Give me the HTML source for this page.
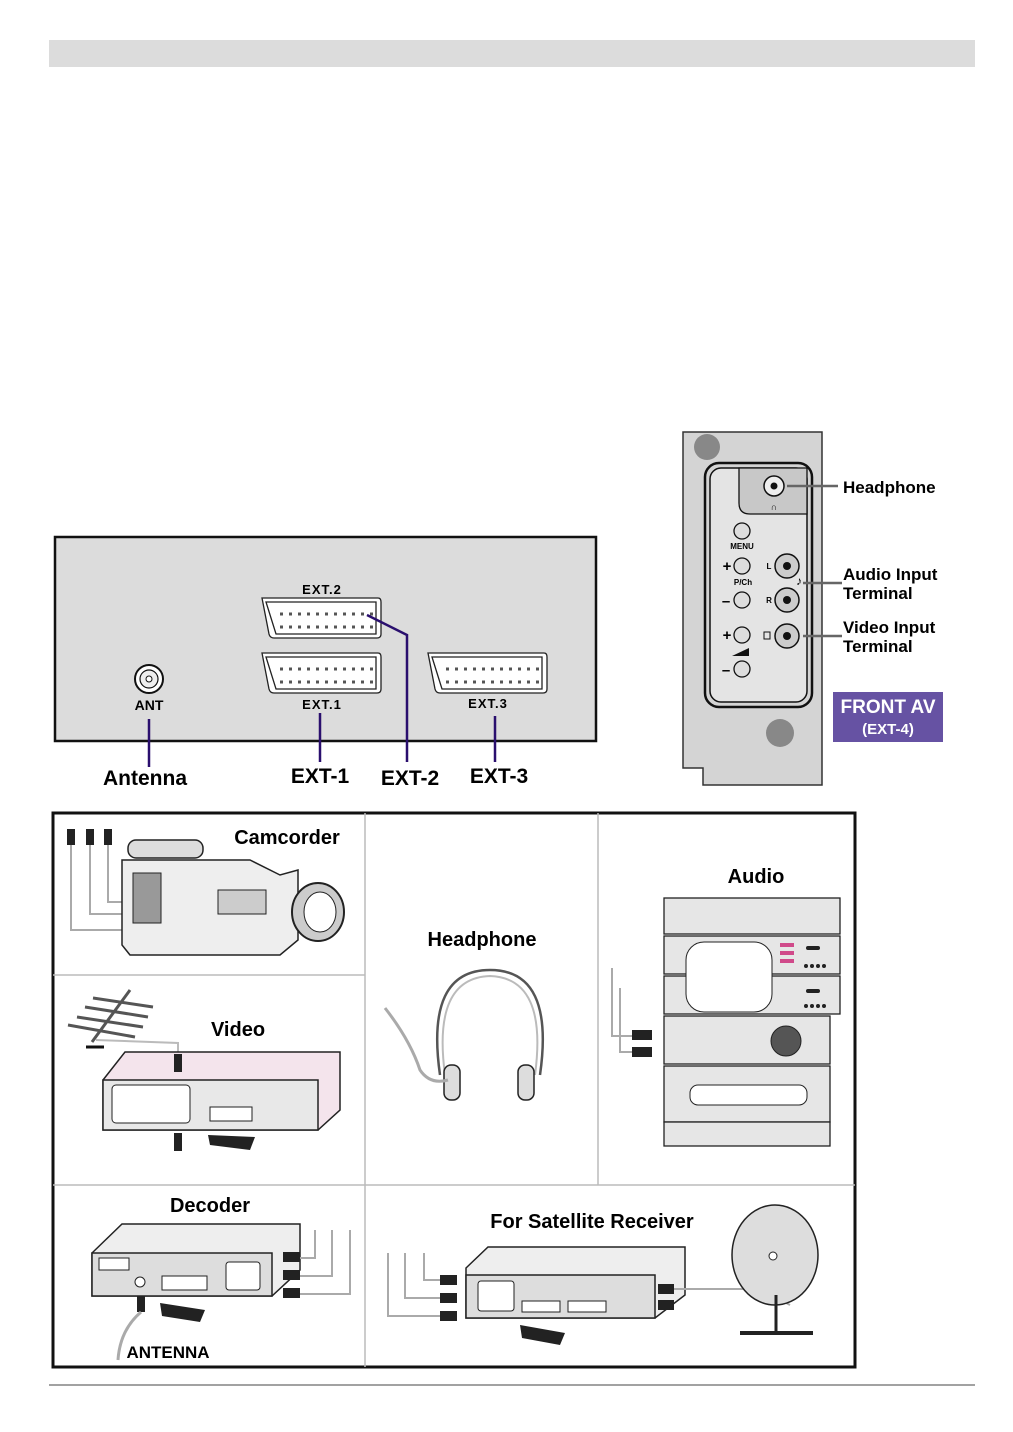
<!DOCTYPE html>
<html><head><meta charset="utf-8"><style>
html,body{margin:0;padding:0;background:#fff}
svg{display:block}
text{font-family:"Liberation Sans",Arial,sans-serif;font-weight:bold}
</style></head><body>
<svg width="1013" height="1432" viewBox="0 0 1013 1432" xmlns="http://www.w3.org/2000/svg">
<rect x="49" y="40" width="926" height="27" fill="#dcdcdc"/>
<line x1="49" y1="1385" x2="975" y2="1385" stroke="#444" stroke-width="1"/>

<!-- Rear panel -->
<rect x="55" y="537" width="541" height="204" fill="#dcdcdc" stroke="#111" stroke-width="2.5"/>
<circle cx="149" cy="679" r="14" fill="#fff" stroke="#111" stroke-width="2"/>
<circle cx="149" cy="679" r="9" fill="#eee" stroke="#111" stroke-width="1.2"/>
<circle cx="149" cy="679" r="3" fill="#fff" stroke="#111"/>
<text x="149" y="710" font-size="14" text-anchor="middle">ANT</text>
<g fill="#fff" stroke="#222" stroke-width="1.3">
<path d="M262 598 L378 598 Q381 598 381 602 L381 634 Q381 638 377 638 L274 638 Q270 638 269 634 Z"/>
<path d="M266 602 L376 602 L376 634 L276 634 Z"/>
<path d="M262 653 L378 653 Q381 653 381 657 L381 689 Q381 693 377 693 L274 693 Q270 693 269 689 Z"/>
<path d="M266 657 L376 657 L376 689 L276 689 Z"/>
<path d="M428 653 L544 653 Q547 653 547 657 L547 689 Q547 693 543 693 L440 693 Q436 693 435 689 Z"/>
<path d="M432 657 L542 657 L542 689 L442 689 Z"/>
</g>
<g stroke="#555" stroke-width="3" stroke-dasharray="3,6">
<line x1="280" y1="614" x2="374" y2="614"/><line x1="280" y1="627" x2="374" y2="627"/>
<line x1="280" y1="669" x2="374" y2="669"/><line x1="280" y1="682" x2="374" y2="682"/>
<line x1="446" y1="669" x2="540" y2="669"/><line x1="446" y1="682" x2="540" y2="682"/>
</g>
<text x="322" y="594" font-size="13" text-anchor="middle" letter-spacing="1">EXT.2</text>
<text x="322" y="709" font-size="13" text-anchor="middle" letter-spacing="1">EXT.1</text>
<text x="488" y="708" font-size="13" text-anchor="middle" letter-spacing="1">EXT.3</text>
<g stroke="#2a0f6e" stroke-width="2.5" fill="none">
<line x1="149" y1="719" x2="149" y2="767"/>
<line x1="320" y1="713" x2="320" y2="762"/>
<polyline points="367,615 407,635 407,762"/>
<line x1="495" y1="716" x2="495" y2="762"/>
</g>
<text x="145" y="785" font-size="21" text-anchor="middle">Antenna</text>
<text x="320" y="783" font-size="21" text-anchor="middle">EXT-1</text>
<text x="410" y="785" font-size="21" text-anchor="middle">EXT-2</text>
<text x="499" y="783" font-size="21" text-anchor="middle">EXT-3</text>

<!-- Front panel -->
<path d="M683 432 L822 432 L822 785 L703 785 L703 768 L683 768 Z" fill="#d4d4d4" stroke="#333" stroke-width="1.5"/>
<circle cx="707" cy="447" r="13" fill="#888"/>
<circle cx="780" cy="733" r="14" fill="#888"/>
<rect x="705" y="463" width="107" height="244" rx="14" fill="none" stroke="#111" stroke-width="2.5"/>
<rect x="710" y="468" width="97" height="234" rx="11" fill="#e4e4e4" stroke="#111" stroke-width="1.5"/>
<path d="M739 468 L807 468 L807 514 L750 514 Q739 514 739 503 Z" fill="#c8c8c8" stroke="#111" stroke-width="1.3"/>
<circle cx="774" cy="486" r="10" fill="#eee" stroke="#111" stroke-width="1.5"/><circle cx="774" cy="486" r="3.5" fill="#111"/>
<text x="774" y="510" font-size="9" text-anchor="middle">∩</text>
<g fill="#ddd" stroke="#111" stroke-width="1.3">
<circle cx="742" cy="531" r="8"/><circle cx="742" cy="566" r="8"/><circle cx="742" cy="600" r="8"/><circle cx="742" cy="635" r="8"/><circle cx="742" cy="669" r="8"/>
</g>
<text x="742" y="549" font-size="8" text-anchor="middle">MENU</text>
<text x="743" y="585" font-size="8" text-anchor="middle">P/Ch</text>
<text x="727" y="571" font-size="15" text-anchor="middle">+</text>
<text x="726" y="606" font-size="15" text-anchor="middle">–</text>
<text x="727" y="640" font-size="15" text-anchor="middle">+</text>
<text x="726" y="675" font-size="15" text-anchor="middle">–</text>
<path d="M732 656 L749 648 L749 656 Z" fill="#111"/>
<g fill="#ccc" stroke="#111" stroke-width="1.5">
<circle cx="787" cy="566" r="12"/><circle cx="787" cy="600" r="12"/><circle cx="787" cy="636" r="12"/>
</g>
<circle cx="787" cy="566" r="4" fill="#111"/><circle cx="787" cy="600" r="4" fill="#111"/><circle cx="787" cy="636" r="4" fill="#111"/>
<text x="769" y="569" font-size="8" text-anchor="middle">L</text>
<text x="769" y="603" font-size="8" text-anchor="middle">R</text>
<rect x="764" y="632" width="6" height="7" fill="none" stroke="#111"/>
<g stroke="#666" stroke-width="2.5">
<line x1="787" y1="486" x2="838" y2="486"/>
<line x1="803" y1="583" x2="842" y2="583"/>
<line x1="803" y1="636" x2="842" y2="636"/>
</g>
<text x="799" y="585" font-size="12" text-anchor="middle">♪</text>
<text x="843" y="493" font-size="17">Headphone</text>
<text x="843" y="580" font-size="17">Audio Input</text>
<text x="843" y="599" font-size="17">Terminal</text>
<text x="843" y="633" font-size="17">Video Input</text>
<text x="843" y="652" font-size="17">Terminal</text>
<rect x="833" y="692" width="110" height="50" fill="#6652a3"/>
<text x="888" y="713" font-size="19" fill="#fff" text-anchor="middle">FRONT AV</text>
<text x="888" y="734" font-size="15" fill="#fff" text-anchor="middle">(EXT-4)</text>

<!-- Bottom grid -->
<rect x="53" y="813" width="802" height="554" fill="#fff" stroke="#111" stroke-width="3"/>
<g stroke="#bbb" stroke-width="1.5">
<line x1="365" y1="813" x2="365" y2="1367"/>
<line x1="598" y1="813" x2="598" y2="1185"/>
<line x1="53" y1="975" x2="365" y2="975"/>
<line x1="53" y1="1185" x2="855" y2="1185"/>
</g>

<!-- Camcorder -->
<g stroke="#aaa" stroke-width="2" fill="none">
<polyline points="71,845 71,930 122,930"/><polyline points="90,845 90,914 122,914"/><polyline points="108,845 108,902 122,902"/>
</g>
<g fill="#222"><rect x="67" y="829" width="8" height="16"/><rect x="86" y="829" width="8" height="16"/><rect x="104" y="829" width="8" height="16"/></g>
<path d="M122 860 L250 860 L280 875 L298 870 L298 940 L280 955 L130 955 L122 945 Z" fill="#eee" stroke="#222" stroke-width="1.5"/>
<rect x="128" y="840" width="75" height="18" rx="8" fill="#ddd" stroke="#222" stroke-width="1.5"/>
<rect x="133" y="873" width="28" height="50" fill="#999" stroke="#222"/>
<rect x="218" y="890" width="48" height="24" fill="#ccc" stroke="#222"/>
<ellipse cx="318" cy="912" rx="26" ry="29" fill="#ccc" stroke="#222" stroke-width="2"/>
<ellipse cx="320" cy="912" rx="16" ry="20" fill="#fff" stroke="#222"/>
<text x="287" y="844" font-size="20" text-anchor="middle">Camcorder</text>

<!-- Video -->
<g stroke="#555" stroke-width="3"><line x1="92" y1="1042" x2="130" y2="990"/>
<line x1="93" y1="998" x2="153" y2="1007"/><line x1="85" y1="1007" x2="148" y2="1017"/><line x1="77" y1="1017" x2="143" y2="1027"/><line x1="68" y1="1025" x2="135" y2="1037"/></g>
<line x1="86" y1="1047" x2="104" y2="1047" stroke="#111" stroke-width="3"/>
<polyline points="96,1040 178,1043 178,1058" stroke="#bbb" stroke-width="2" fill="none"/>
<path d="M103 1080 L125 1052 L340 1052 L340 1110 L318 1130 L103 1130 Z" fill="#f4e4ec" stroke="#222" stroke-width="1.5"/>
<rect x="103" y="1080" width="215" height="50" fill="#e8e8e8" stroke="#222" stroke-width="1.5"/>
<rect x="112" y="1085" width="78" height="38" rx="4" fill="#fff" stroke="#222"/>
<rect x="210" y="1107" width="42" height="14" fill="#fff" stroke="#222"/>
<rect x="174" y="1054" width="8" height="18" fill="#222"/><rect x="174" y="1133" width="8" height="18" fill="#222"/>
<path d="M208 1135 L255 1137 L250 1150 L210 1145 Z" fill="#222"/>
<text x="238" y="1036" font-size="20" text-anchor="middle">Video</text>

<!-- Headphone -->
<text x="482" y="946" font-size="20" text-anchor="middle">Headphone</text>
<path d="M440 1075 Q425 970 490 970 Q555 970 540 1075" fill="none" stroke="#555" stroke-width="2.5"/>
<path d="M445 1075 Q432 978 490 976 Q548 978 535 1075" fill="none" stroke="#bbb" stroke-width="2"/>
<rect x="444" y="1065" width="16" height="35" rx="7" fill="#ddd" stroke="#222" stroke-width="1.5"/>
<rect x="518" y="1065" width="16" height="35" rx="7" fill="#ddd" stroke="#222" stroke-width="1.5"/>
<path d="M385 1008 Q410 1040 420 1070 Q430 1085 448 1080" fill="none" stroke="#aaa" stroke-width="3"/>

<!-- Audio -->
<text x="756" y="883" font-size="20" text-anchor="middle">Audio</text>
<g fill="#e6e6e6" stroke="#222" stroke-width="1.3">
<rect x="664" y="898" width="176" height="36"/>
<rect x="664" y="936" width="176" height="38"/>
<rect x="664" y="976" width="176" height="38"/>
<rect x="664" y="1016" width="166" height="48"/>
<rect x="664" y="1066" width="166" height="56"/>
<rect x="664" y="1122" width="166" height="24"/>
</g>
<rect x="686" y="942" width="86" height="70" rx="18" fill="#fff" stroke="#222"/>
<circle cx="786" cy="1041" r="15" fill="#555" stroke="#222"/>
<g fill="#d04a8a"><rect x="780" y="943" width="14" height="4"/><rect x="780" y="951" width="14" height="4"/><rect x="780" y="959" width="14" height="4"/></g>
<g fill="#222"><circle cx="806" cy="966" r="2"/><circle cx="812" cy="966" r="2"/><circle cx="818" cy="966" r="2"/><circle cx="824" cy="966" r="2"/>
<circle cx="806" cy="1006" r="2"/><circle cx="812" cy="1006" r="2"/><circle cx="818" cy="1006" r="2"/><circle cx="824" cy="1006" r="2"/>
<rect x="806" y="946" width="14" height="4" rx="2"/><rect x="806" y="989" width="14" height="4" rx="2"/></g>
<rect x="690" y="1085" width="117" height="20" rx="8" fill="#fff" stroke="#222"/>
<g stroke="#aaa" stroke-width="2" fill="none"><polyline points="612,968 612,1036 632,1036"/><polyline points="620,988 620,1052 632,1052"/></g>
<rect x="632" y="1030" width="20" height="10" fill="#222"/><rect x="632" y="1047" width="20" height="10" fill="#222"/>

<!-- Decoder -->
<text x="210" y="1212" font-size="20" text-anchor="middle">Decoder</text>
<path d="M92 1253 L122 1224 L300 1224 L300 1270 L272 1296 L92 1296 Z" fill="#eee" stroke="#222" stroke-width="1.5"/>
<rect x="92" y="1253" width="180" height="43" fill="#ddd" stroke="#222" stroke-width="1.5"/>
<rect x="99" y="1258" width="30" height="12" fill="#fff" stroke="#222"/>
<circle cx="140" cy="1282" r="5" fill="#fff" stroke="#222"/>
<rect x="162" y="1276" width="45" height="14" fill="#fff" stroke="#222"/>
<rect x="226" y="1262" width="34" height="28" rx="3" fill="#fff" stroke="#222"/>
<g stroke="#aaa" stroke-width="2" fill="none"><polyline points="300,1258 315,1258 315,1230"/><polyline points="300,1276 332,1276 332,1230"/><polyline points="300,1294 350,1294 350,1230"/></g>
<rect x="283" y="1252" width="17" height="10" fill="#222"/><rect x="283" y="1270" width="17" height="10" fill="#222"/><rect x="283" y="1288" width="17" height="10" fill="#222"/>
<rect x="137" y="1296" width="8" height="16" fill="#222"/>
<path d="M160 1303 L205 1310 L200 1322 L162 1316 Z" fill="#222"/>
<path d="M141 1312 Q120 1330 118 1360" fill="none" stroke="#aaa" stroke-width="3"/>
<text x="168" y="1358" font-size="17" text-anchor="middle">ANTENNA</text>

<!-- Satellite -->
<text x="592" y="1228" font-size="20" text-anchor="middle">For Satellite Receiver</text>
<path d="M466 1268 L488 1247 L685 1247 L685 1295 L655 1318 L466 1318 Z" fill="#eee" stroke="#222" stroke-width="1.5"/>
<rect x="466" y="1275" width="189" height="43" fill="#ddd" stroke="#222" stroke-width="1.5"/>
<rect x="478" y="1281" width="36" height="30" rx="3" fill="#fff" stroke="#222"/>
<rect x="522" y="1301" width="38" height="11" fill="#fff" stroke="#222"/><rect x="568" y="1301" width="38" height="11" fill="#fff" stroke="#222"/>
<g stroke="#aaa" stroke-width="2" fill="none"><polyline points="440,1280 424,1280 424,1253"/><polyline points="440,1298 405,1298 405,1253"/><polyline points="440,1316 388,1316 388,1253"/></g>
<rect x="440" y="1275" width="17" height="10" fill="#222"/><rect x="440" y="1293" width="17" height="10" fill="#222"/><rect x="440" y="1311" width="17" height="10" fill="#222"/>
<rect x="658" y="1284" width="16" height="10" fill="#222"/><rect x="658" y="1300" width="16" height="10" fill="#222"/>
<path d="M520 1325 L565 1333 L560 1345 L522 1338 Z" fill="#222"/>
<polyline points="674,1289 760,1289 790,1305" stroke="#aaa" stroke-width="2" fill="none"/>
<ellipse cx="775" cy="1255" rx="43" ry="50" fill="#ddd" stroke="#222" stroke-width="1.5"/>
<circle cx="773" cy="1256" r="4" fill="#fff" stroke="#222"/>
<line x1="776" y1="1295" x2="776" y2="1332" stroke="#222" stroke-width="3"/>
<line x1="740" y1="1333" x2="813" y2="1333" stroke="#222" stroke-width="4"/>
</svg>
</body></html>
